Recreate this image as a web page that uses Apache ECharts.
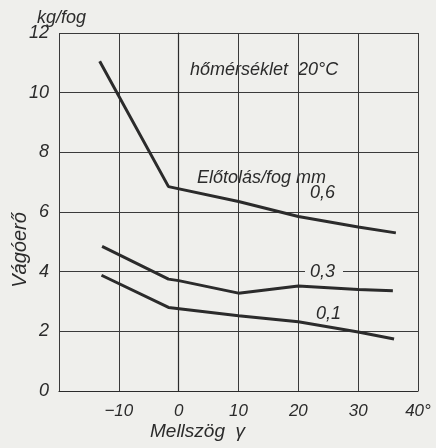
<!DOCTYPE html>
<html>
<head>
    <meta charset="utf-8">
    <title>Vágóerő</title>
    <script src="https://cdn.jsdelivr.net/npm/echarts@6/dist/echarts.min.js"></script>
    <style>
        body { margin: 0; background: #efefec; }
    </style>
</head>
<body>
    <div id="main" style="width: 436px;height:448px;"></div>
    <script type="text/javascript">
        // mellszög (fok) és vágóerő (kg/fog) pontok, előtolásonként
        var feed06 = [[-13.2, 11.05], [-1.7, 6.85], [10, 6.35], [20, 5.85], [30, 5.5], [36.3, 5.3]];
        var feed03 = [[-12.8, 4.85], [-1.7, 3.75], [0, 3.7], [10, 3.28], [20, 3.52], [30, 3.4], [35.8, 3.36]];
        var feed01 = [[-12.9, 3.88], [-1.7, 2.8], [10, 2.52], [20, 2.32], [30, 1.98], [36, 1.74]];
        var xTicks = [-20, -10, 0, 10, 20, 30, 40];
        var yTicks = [0, 2, 4, 6, 8, 10, 12];

        var ink = '#2b2b2b';
        var paper = '#efefec';
        var font = 'Liberation Sans';
        var myChart = echarts.init(document.getElementById('main'));

        function curve(name, data) {
            return {
                name: name,
                type: 'line',
                data: data,
                symbol: 'none',
                lineStyle: { color: ink, width: 3 },
                silent: true
            };
        }

        var option = {
            backgroundColor: paper,
            animation: false,
            grid: { left: 59, right: 18, top: 33, bottom: 57 },
            xAxis: {
                type: 'value',
                min: xTicks[0],
                max: xTicks[xTicks.length - 1],
                interval: 10,
                axisLine: { show: true, lineStyle: { color: ink, width: 1.2 } },
                axisTick: { show: false },
                splitLine: { show: true, lineStyle: { color: '#3a3a3a', width: 1 } },
                axisLabel: {
                    color: ink, fontFamily: font, fontStyle: 'italic', fontSize: 17, margin: 12,
                    formatter: function (v) {
                        if (v === xTicks[0]) return '';
                        if (v === xTicks[xTicks.length - 1]) return v + '°';
                        return v < 0 ? '\u2212' + (-v) : String(v);
                    }
                }
            },
            yAxis: {
                type: 'value',
                min: yTicks[0],
                max: yTicks[yTicks.length - 1],
                interval: 2,
                axisLine: { show: true, lineStyle: { color: ink, width: 1.2 } },
                axisTick: { show: false },
                splitLine: { show: true, lineStyle: { color: '#3a3a3a', width: 1 } },
                axisLabel: { color: ink, fontFamily: font, fontStyle: 'italic', fontSize: 18, margin: 10 }
            },
            series: [
                curve('0,6', feed06),
                curve('0,3', feed03),
                curve('0,1', feed01)
            ],
            graphic: [
                { type: 'text', left: 37, top: 9, style: { text: 'kg/fog', fill: ink, font: 'italic 18px ' + font } },
                { type: 'text', x: 20, y: 250, rotation: Math.PI / 2, style: { text: 'Vágóerő', fill: ink, font: 'italic 20px ' + font, align: 'center', verticalAlign: 'middle' } },
                { type: 'text', x: 150, y: 432, style: { text: 'Mellszög  γ', fill: ink, font: 'italic 19px ' + font, verticalAlign: 'middle' } },
                { type: 'text', x: 190, y: 70, style: { text: 'hőmérséklet  20°C', fill: ink, font: 'italic 18px ' + font, verticalAlign: 'middle' } },
                { type: 'text', x: 197, y: 178, style: { text: 'Előtolás/fog mm', fill: ink, font: 'italic 18px ' + font, verticalAlign: 'middle' } },
                { type: 'text', x: 310, y: 193, style: { text: '0,6', fill: ink, font: 'italic 18px ' + font, verticalAlign: 'middle' } },
                { type: 'rect', shape: { x: 305, y: 264, width: 38, height: 16 }, style: { fill: paper }, z: 90 },
                { type: 'text', x: 310, y: 272, z: 100, style: { text: '0,3', fill: ink, font: 'italic 18px ' + font, verticalAlign: 'middle' } },
                { type: 'text', x: 316, y: 314, style: { text: '0,1', fill: ink, font: 'italic 18px ' + font, verticalAlign: 'middle' } }
            ]
        };

        myChart.setOption(option);
    </script>
</body>
</html>
